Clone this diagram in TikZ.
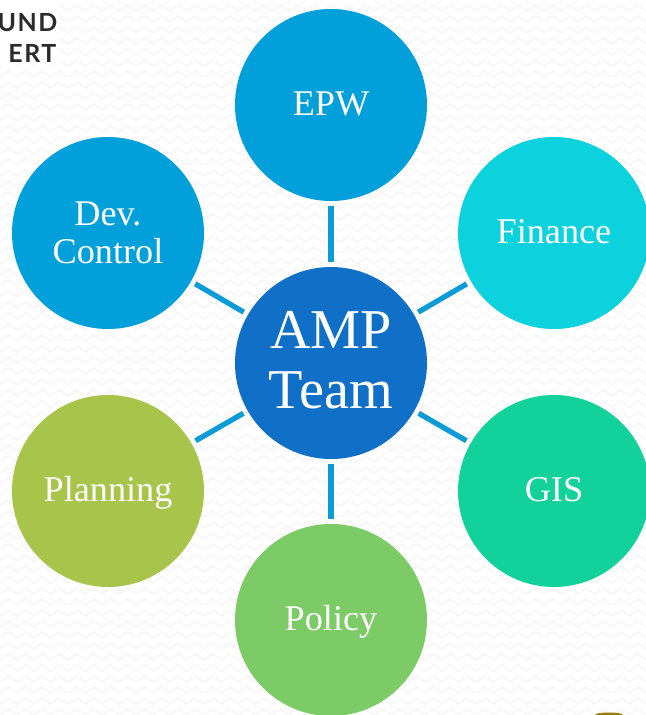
\documentclass[tikz,border=0pt]{standalone}
\usepackage{fontspec}
\setmainfont{Liberation Serif}
\newfontfamily\logofont[LetterSpace=6]{Lato}
\definecolor{ampblue}{HTML}{106FC6}
\definecolor{epwblue}{HTML}{02A0DA}
\definecolor{financecyan}{HTML}{0CD2DD}
\definecolor{gisgreen}{HTML}{12D19A}
\definecolor{policygreen}{HTML}{7DCB67}
\definecolor{planningolive}{HTML}{A9C44B}
\definecolor{linkblue}{HTML}{0B9CD8}
\definecolor{zigzag}{HTML}{F8F8F8}
\definecolor{logogray}{HTML}{2B2B2B}
\definecolor{corner}{HTML}{9A7A00}
\usetikzlibrary{positioning,calc}

\begin{document}
\begin{tikzpicture}[
    bubble/.style={circle,minimum size=1.92cm,inner sep=0pt,outer sep=0pt,text=white,align=center,
        font=\fontsize{10.3}{10.8}\selectfont},
    oneline/.style={bubble,text height=6.2pt,text depth=0pt},
    hub/.style={bubble,text depth=1.7pt,font=\fontsize{16}{17.3}\selectfont},
    logotext/.style={anchor=east,inner sep=0pt,text=logogray,font=\logofont\bfseries\fontsize{7.1}{7.1}\selectfont},
    link/.style={linkblue,line width=1.5pt,shorten >=0.05cm,shorten <=0.05cm}
]
    \useasboundingbox (0,0) rectangle (6.46,7.15);
    \clip (0,0) rectangle (6.46,7.15);
    % background
    \foreach \row in {0,...,65}
        \draw[zigzag,line width=0.7pt,shift={(0,\row*0.11)}]
            \foreach \col in {0,...,38} {(\col*0.17,0) -- ++(0.085,0.06) -- ++(0.085,-0.06)};
    \fill[white] (0,6.5) rectangle (0.58,7.15);
    % logo
    \node[logotext] (logoa) at (0.58,6.92) {UND};
    \node[logotext] (logob) at (0.57,6.62) {ERT};
    \fill[corner] (6.09,0) ellipse (0.14 and 0.025);
    % circles
    \node[hub,fill=ampblue] (amp) at (3.31,3.52) {AMP\\Team};
    \node[oneline,fill=epwblue] (epw) at (3.31,6.10) {EPW};
    \node[oneline,fill=financecyan] (finance) at (5.54,4.82) {Finance};
    \node[oneline,fill=gisgreen] (gis) at (5.54,2.24) {GIS};
    \node[oneline,fill=policygreen] (policy) at (3.31,0.95) {Policy};
    \node[oneline,fill=planningolive] (planning) at (1.08,2.24) {Planning};
    \node[bubble,fill=epwblue] (dev) at (1.08,4.82) {Dev.\\Control};
    % connectors
    \foreach \name in {epw,finance,gis,policy,planning,dev}
        \draw[link] (amp) -- (\name);
\end{tikzpicture}
\end{document}
